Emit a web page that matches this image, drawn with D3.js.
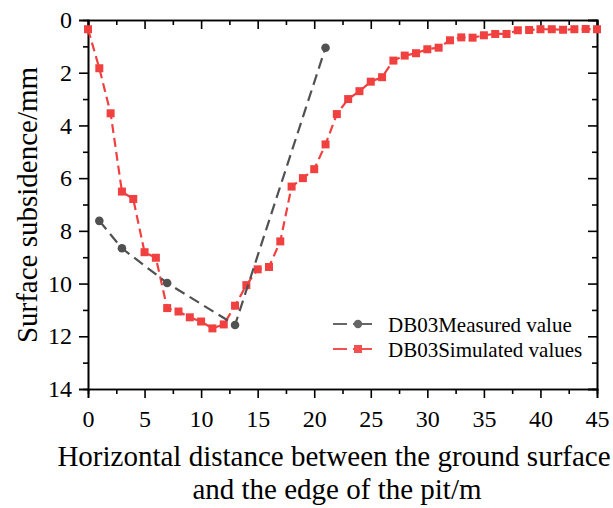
<!DOCTYPE html>
<html><head><meta charset="utf-8">
<script src="https://cdn.jsdelivr.net/npm/d3@7"></script>
<style>body{margin:0;background:#fff}svg{display:block}text{font-family:"Liberation Serif","Times New Roman",serif;fill:#000}</style>
</head><body>
<script>
const measuredX = [1, 3, 7, 13, 21];
const measuredY = [7.62, 8.66, 9.98, 11.57, 1.05];
const simulatedX = [0,1,2,3,4,5,6,7,8,9,10,11,12,13,14,15,16,17,18,19,20,21,22,23,24,25,26,27,28,29,30,31,32,33,34,35,36,37,38,39,40,41,42,43,44,45];
const simulatedY = [0.35,1.83,3.54,6.51,6.79,8.81,9.02,10.93,11.06,11.28,11.44,11.7,11.55,10.84,10.06,9.46,9.37,8.4,6.32,6.0,5.66,4.72,3.57,3.0,2.7,2.34,2.17,1.54,1.35,1.26,1.11,1.05,0.77,0.66,0.67,0.58,0.53,0.53,0.39,0.38,0.35,0.35,0.37,0.35,0.34,0.35];
const xTicks = [0,5,10,15,20,25,30,35,40,45];
const yTicks = [0,2,4,6,8,10,12,14];
const seriesNames = ["DB03Measured value","DB03Simulated values"];
const colors = ["#515151","#f14040"];
const legendColors = ["#666666","#f45050"];

const W=613,H=508, L=88,R=597,T=20,B=389;
const svg=d3.select("body").append("svg").attr("width",W).attr("height",H);
const x=d3.scaleLinear().domain([0,45]).range([L,R]);
const y=d3.scaleLinear().domain([0,14]).range([T,B]);

const xMinor=d3.range(2.5,45,5);
const yMinor=d3.range(1,14,2);

// bottom axis
const gB=svg.append("g").attr("transform",`translate(0,${B})`);
gB.call(d3.axisBottom(x).tickValues(xTicks).tickSize(9).tickPadding(12).tickFormat(d3.format("d")));
gB.append("g").call(d3.axisBottom(x).tickValues(xMinor).tickSize(5).tickFormat(""));
// top axis
const gT=svg.append("g").attr("transform",`translate(0,${T})`);
gT.call(d3.axisBottom(x).tickValues(xTicks).tickSize(9).tickFormat(""));
gT.append("g").call(d3.axisBottom(x).tickValues(xMinor).tickSize(5).tickFormat(""));
// left axis
const gL=svg.append("g").attr("transform",`translate(${L},0)`);
gL.call(d3.axisLeft(y).tickValues(yTicks).tickSize(9).tickPadding(7).tickFormat(d3.format("d")));
gL.append("g").call(d3.axisLeft(y).tickValues(yMinor).tickSize(5).tickFormat(""));
// right axis
const gR=svg.append("g").attr("transform",`translate(${R},0)`);
gR.call(d3.axisLeft(y).tickValues(yTicks).tickSize(9).tickFormat(""));
gR.append("g").call(d3.axisLeft(y).tickValues(yMinor).tickSize(5).tickFormat(""));

svg.selectAll(".domain").attr("stroke","#000").attr("stroke-width",1.6);
svg.selectAll(".tick line").attr("stroke","#000").attr("stroke-width",1.6);
svg.selectAll(".tick text").style("font-size","24px").style("font-family","'Liberation Serif',serif").attr("fill","#000");

const line=d3.line().x(d=>x(d[0])).y(d=>y(d[1]));
const meas=measuredX.map((v,i)=>[v,measuredY[i]]);
const sim=simulatedX.map((v,i)=>[v,simulatedY[i]]);

const plot=svg.append("g");
plot.append("path").datum(sim).attr("d",line).attr("fill","none").attr("stroke",colors[1]).attr("stroke-width",2.2).attr("stroke-dasharray","9,5");
plot.selectAll("rect.s").data(sim).enter().append("rect").attr("class","s")
  .attr("x",d=>x(d[0])-4).attr("y",d=>y(d[1])-4).attr("width",8).attr("height",8).attr("fill",colors[1]);
plot.append("path").datum(meas).attr("d",line).attr("fill","none").attr("stroke",colors[0]).attr("stroke-width",2.2).attr("stroke-dasharray","11,6");
plot.selectAll("circle.m").data(meas).enter().append("circle").attr("class","m")
  .attr("cx",d=>x(d[0])).attr("cy",d=>y(d[1])).attr("r",4.3).attr("fill",colors[0]);

// legend
const lg=svg.append("g");
seriesNames.forEach((n,i)=>{
  const yy=324+i*25;
  lg.append("line").attr("x1",333).attr("x2",372).attr("y1",yy).attr("y2",yy).attr("stroke",legendColors[i]).attr("stroke-width",2.2).attr("stroke-dasharray","14,6,20");
  if(i===0) lg.append("circle").attr("cx",358).attr("cy",yy).attr("r",4.2).attr("fill",legendColors[i]);
  else lg.append("rect").attr("x",354).attr("y",yy-4).attr("width",8).attr("height",8).attr("fill",legendColors[i]);
  lg.append("text").attr("x",388).attr("y",yy+7.5).style("font-size","21px").text(n);
});

// titles
svg.append("text").attr("transform",`translate(37,205) rotate(-90)`).attr("text-anchor","middle").style("font-size","29px").text("Surface subsidence/mm");
svg.append("text").attr("x",334).attr("y",466).attr("text-anchor","middle").style("font-size","29px").text("Horizontal distance between the ground surface");
svg.append("text").attr("x",337).attr("y",499).attr("text-anchor","middle").style("font-size","29px").text("and the edge of the pit/m");
</script>
</body></html>
